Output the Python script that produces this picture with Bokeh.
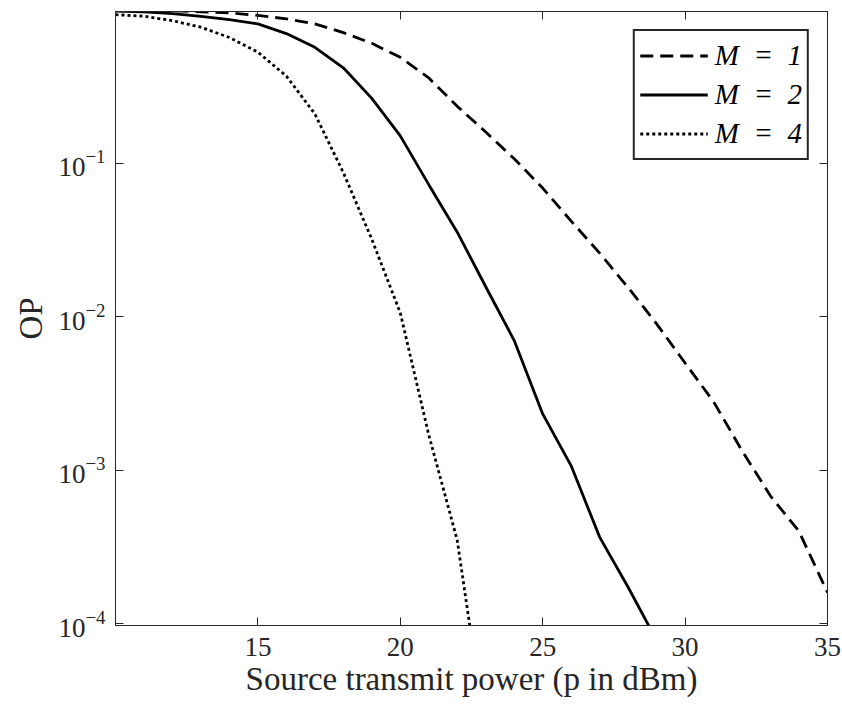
import numpy as np
from bokeh.plotting import figure
from bokeh.models import (Legend, LegendItem, LogAxis, LinearAxis, FixedTicker,
                          Range1d, CustomJSTickFormatter)
from bokeh.embed import file_html
from bokeh.resources import INLINE

# ---- data ----
power_dbm = [10, 11, 12, 13, 14, 15, 16, 17, 18, 19, 20, 21, 22, 23, 24, 25,
             26, 27, 28, 29, 30, 31, 32, 33, 34, 35]
op_m1 = [0.995, 0.99, 0.985, 0.97, 0.955, 0.92, 0.873, 0.81, 0.71, 0.605,
         0.49, 0.36, 0.235, 0.16, 0.107, 0.069, 0.042, 0.026, 0.0155, 0.0090,
         0.0050, 0.0028, 0.00134, 0.00068, 0.00040, 0.00016]
op_m2 = [0.98, 0.969, 0.945, 0.907, 0.863, 0.809, 0.70, 0.57, 0.419, 0.265,
         0.151, 0.0726, 0.0356, 0.0157, 0.0070, 0.00233, 0.00107, 0.000367,
         0.000173, 0.000078]
op_m4 = [0.93, 0.908, 0.85, 0.77, 0.66, 0.53, 0.37, 0.21, 0.087, 0.032,
         0.0106, 0.0017, 0.00035, 0.000019]
series_labels = ["M\u2002=\u20021", "M\u2002=\u20022", "M\u2002=\u20024"]
x_ticks = [15, 20, 25, 30, 35]
y_ticks = [1e-4, 1e-3, 1e-2, 1e-1]

AX = "#262626"
FONT = "Liberation Serif"

p = figure(frame_width=712, frame_height=614,
           x_range=Range1d(10, 35), y_range=Range1d(10**-4.011, 10**-0.011),
           y_axis_type="log", output_backend="svg", toolbar_location=None,
           min_border_left=115, min_border_right=15, min_border_top=11,
           min_border_bottom=86, background_fill_color="white",
           border_fill_color="white")
p.xgrid.visible = False
p.ygrid.visible = False
p.outline_line_color = AX
p.outline_line_width = 1

n1 = len(op_m1)
n2 = len(op_m2)
n4 = len(op_m4)
r1 = p.line(power_dbm[:n1], op_m1, line_color="black", line_width=2.8,
            line_dash="13 7")
r2 = p.line(power_dbm[:n2], op_m2, line_color="black", line_width=2.8)
r4 = p.line(power_dbm[:n4], op_m4, line_color="black", line_width=2.8,
            line_dash="3 3")


def style(ax, labels=True):
    ax.major_tick_in = 8
    ax.major_tick_out = 0
    ax.minor_tick_in = 0
    ax.minor_tick_out = 0
    ax.axis_line_color = AX
    ax.major_tick_line_color = AX
    ax.major_tick_line_width = 1
    ax.major_label_text_font = FONT
    ax.major_label_text_font_size = "27px"
    ax.major_label_text_color = AX
    if not labels:
        ax.formatter = CustomJSTickFormatter(code="return ''")


xa = p.xaxis[0]
xa.ticker = FixedTicker(ticks=x_ticks, minor_ticks=[])
style(xa)
xa.major_label_standoff = 12
xa.axis_label = "Source transmit power (p in dBm)"
xa.axis_label_text_font = FONT
xa.axis_label_text_font_style = "normal"
xa.axis_label_text_font_size = "33px"
xa.axis_label_text_color = AX
xa.axis_label_standoff = 2

ya = p.yaxis[0]
ya.ticker = FixedTicker(ticks=y_ticks, minor_ticks=[])
style(ya)
ya.major_label_standoff = 10
ya.axis_label = "OP"
ya.axis_label_text_font = FONT
ya.axis_label_text_font_style = "normal"
ya.axis_label_text_font_size = "33px"
ya.axis_label_text_color = AX
ya.axis_label_standoff = 6

top = LinearAxis(ticker=FixedTicker(ticks=x_ticks, minor_ticks=[]))
style(top, labels=False)
p.add_layout(top, "above")
right = LogAxis(ticker=FixedTicker(ticks=y_ticks, minor_ticks=[]))
style(right, labels=False)
p.add_layout(right, "right")

legend = Legend(items=[LegendItem(label=series_labels[0], renderers=[r1]),
                       LegendItem(label=series_labels[1], renderers=[r2]),
                       LegendItem(label=series_labels[2], renderers=[r4])],
                location="top_right", margin=18, padding=5, spacing=0,
                glyph_width=68, glyph_height=39, label_height=39,
                label_standoff=7, label_text_font=FONT,
                label_text_font_style="italic", label_text_font_size="29px",
                label_text_color="black", border_line_color=AX,
                border_line_alpha=1.0, border_line_width=2,
                background_fill_color="white", background_fill_alpha=1.0)
p.add_layout(legend)

open("out.html", "w").write(file_html(p, INLINE))
